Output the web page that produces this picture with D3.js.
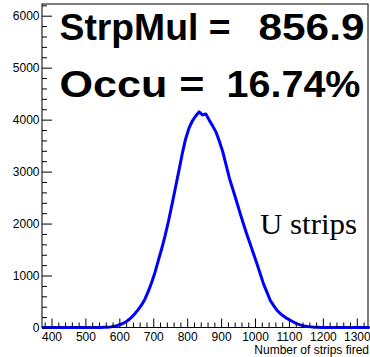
<!DOCTYPE html>
<html><head><meta charset="utf-8">
<script src="https://cdn.jsdelivr.net/npm/d3@7"></script>
<style>body{margin:0;background:#fff} text{white-space:pre}</style>
</head><body><svg id="c" width="370" height="357"></svg>
<script>
// ---- data ----
const binStart = 380, binWidth = 10;
const counts = [
  0,0,0,0,0,0,0,0,0,0,0,0,0,0,0,0,          // 380-530
  1,3,6,12,22,40,62,92,135,190,             // 540-630
  260,340,430,540,690,860,1060,1290,1520,1770, // 640-730
  2050,2360,2680,3000,3330,3620,3830,3970,4070,4150, // 740-830
  4090,4110,3990,3880,3760,3580,3380,3120,2860,2650, // 840-930
  2440,2220,2010,1810,1620,1430,1240,1040,840,680,   // 940-1030
  520,420,330,265,215,170,135,100,70,45,             // 1040-1130
  30,18,12,7,4,2,1,1,0,0,                            // 1140-1230
  0,0,0,0,0,0,0,0,0,0                                // 1240-1330
];
const xRange = [372, 1333];
const yRange = [0, 6225];
const xTicks = [400,500,600,700,800,900,1000,1100,1200,1300];
const yTicks = [0,1000,2000,3000,4000,5000,6000];
const xMinorStep = 20, yMinorStep = 200;
const statNames = ["StrpMul =", "Occu ="];
const statValues = ["856.9", "16.74%"];
const histLabel = "U strips";
const xTitle = "Number of strips fired";

// ---- layout ----
const L = 42, R = 368, T = 4, B = 327.5;
const svg = d3.select("#c");
const x = d3.scaleLinear().domain(xRange).range([L, R]);
const y = d3.scaleLinear().domain(yRange).range([B, T]);
const sans = "'Liberation Sans', Arial, Helvetica, sans-serif";

// histogram (drawn through bin centres, as the fine-binned original looks)
const pts = [[xRange[0], 0]];
counts.forEach((c, i) => pts.push([binStart + (i + 0.5) * binWidth, c]));
pts.push([xRange[1], 0]);
svg.append("path")
  .attr("d", d3.line().x(d => x(d[0])).y(d => y(d[1])).curve(d3.curveLinear)(pts))
  .attr("fill", "none").attr("stroke", "#0000ff").attr("stroke-width", 3)
  .attr("stroke-linejoin", "round");

// frame
svg.append("rect").attr("x", L).attr("y", T).attr("width", R - L).attr("height", B - T)
  .attr("fill", "none").attr("stroke", "#000").attr("stroke-width", 1);

// x axis
const xMinor = d3.range(380, xRange[1], xMinorStep).filter(v => v % 100 !== 0);
const gx = svg.append("g").attr("transform", `translate(0,${B})`)
  .call(d3.axisBottom(x).tickValues(xTicks).tickFormat(d3.format("d"))
    .tickSizeInner(-9).tickSizeOuter(0).tickPadding(5));
gx.select(".domain").remove();
gx.selectAll("text").attr("font-family", sans).attr("font-size", 12).attr("fill", "#000");
const gxm = svg.append("g").attr("transform", `translate(0,${B})`)
  .call(d3.axisBottom(x).tickValues(xMinor).tickSizeInner(-5).tickSizeOuter(0).tickFormat(""));
gxm.select(".domain").remove();

// y axis
const yMinor = d3.range(0, yRange[1], yMinorStep).filter(v => v % 1000 !== 0);
const gy = svg.append("g").attr("transform", `translate(${L},0)`)
  .call(d3.axisLeft(y).tickValues(yTicks).tickFormat(d3.format("d"))
    .tickSizeInner(-10).tickSizeOuter(0).tickPadding(2.5));
gy.select(".domain").remove();
gy.selectAll("text").attr("font-family", sans).attr("font-size", 12).attr("fill", "#000");
const gym = svg.append("g").attr("transform", `translate(${L},0)`)
  .call(d3.axisLeft(y).tickValues(yMinor).tickSizeInner(-5).tickSizeOuter(0).tickFormat(""));
gym.select(".domain").remove();
svg.selectAll(".tick line").attr("stroke", "#000");

// x title
svg.append("text").attr("x", 369).attr("y", 354).attr("text-anchor", "end")
  .attr("font-family", sans).attr("font-size", 12).text(xTitle);

// stat labels: name part and value part
const statLayout = [
  {y: 39.5, nx: 59.5, nw: 171, vx: 258.5, vw: 106},
  {y: 97,   nx: 59.5, nw: 145, vx: 226.5, vw: 134}
];
statLayout.forEach((p, i) => {
  svg.append("text").attr("x", p.nx).attr("y", p.y).attr("font-family", sans)
    .attr("font-weight", "bold").attr("font-size", 37)
    .attr("textLength", p.nw).attr("lengthAdjust", "spacingAndGlyphs").text(statNames[i]);
  svg.append("text").attr("x", p.vx).attr("y", p.y).attr("font-family", sans)
    .attr("font-weight", "bold").attr("font-size", 37)
    .attr("textLength", p.vw).attr("lengthAdjust", "spacingAndGlyphs").text(statValues[i]);
});

// hist label
svg.append("text").attr("x", 260).attr("y", 234)
  .attr("font-family", "'Liberation Serif', 'DejaVu Serif', serif")
  .attr("font-size", 30).attr("textLength", 97).attr("lengthAdjust", "spacingAndGlyphs")
  .text(histLabel);
</script>
</body></html>
